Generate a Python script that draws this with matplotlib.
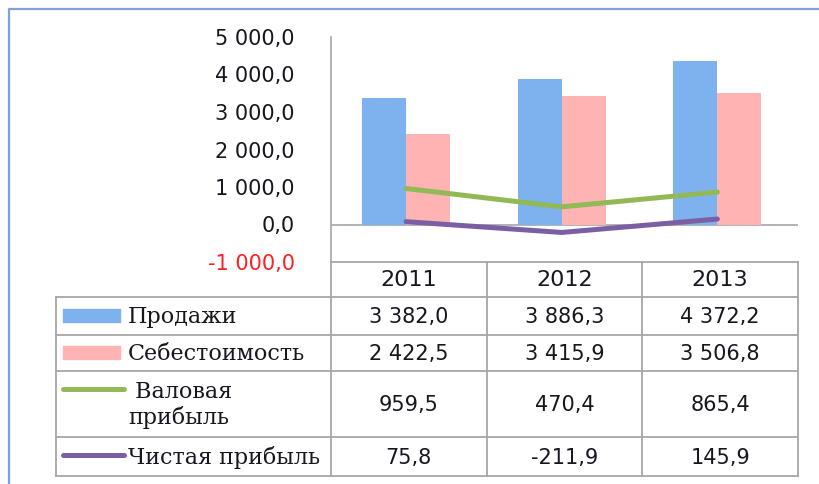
import matplotlib.pyplot as plt
from matplotlib.patches import Rectangle

# data
years = ['2011', '2012', '2013']
sales = [3382.0, 3886.3, 4372.2]
cost = [2422.5, 3415.9, 3506.8]
gross = [959.5, 470.4, 865.4]
net = [75.8, -211.9, 145.9]
labels = ['Продажи', 'Себестоимость', ' Валовая\nприбыль', 'Чистая прибыль']
y_ticks = [-1000, 0, 1000, 2000, 3000, 4000, 5000]

c_blue = '#7DB2EF'
c_pink = '#FFB3B3'
c_green = '#92B955'
c_purple = '#7B5FA5'
c_grid = '#A6A6A6'
c_text = '#16161F'


def fmt(v):
    return f'{v:,.1f}'.replace(',', ' ').replace('.', ',')


W, H = 819, 484
fig = plt.figure(figsize=(W / 100, H / 100), dpi=100)

# background layer in pixel coordinates (border + table)
bg = fig.add_axes([0, 0, 1, 1])
bg.set_xlim(0, W)
bg.set_ylim(H, 0)
bg.axis('off')

# outer chart border
bg.plot([9, 9, W], [H, 9, 9], color='#7FA2D6', lw=1.6, solid_capstyle='butt')

# plot area
x0, x1 = 331, 798
ytop, ybot = 37, 262
ax = fig.add_axes([x0 / W, 1 - ybot / H, (x1 - x0) / W, (ybot - ytop) / H])
ax.set_xlim(-0.5, len(years) - 0.5)
ax.set_ylim(-1000, 5000)
ax.patch.set_alpha(0)

shift = -0.018
xs = [i + shift for i in range(len(years))]
bw = 0.283
ax.bar([x - bw / 2 for x in xs], sales, width=bw, color=c_blue, zorder=2)
ax.bar([x + bw / 2 for x in xs], cost, width=bw, color=c_pink, zorder=2)
ax.axhline(0, color=c_grid, lw=1.2, zorder=1)
ax.plot(xs, gross, color=c_green, lw=3.6, zorder=3, solid_capstyle='round')
ax.plot(xs, net, color=c_purple, lw=3.6, zorder=3, solid_capstyle='round')

for s in ['top', 'right', 'bottom']:
    ax.spines[s].set_visible(False)
ax.spines['left'].set_color(c_grid)
ax.spines['left'].set_linewidth(1.2)
ax.set_xticks([])
ax.set_yticks(y_ticks)
ax.set_yticklabels([fmt(v) for v in y_ticks], fontsize=15, family='DejaVu Sans')
ax.tick_params(axis='y', length=0, pad=26)
for t, v in zip(ax.get_yticklabels(), y_ticks):
    t.set_color('#FF2020' if v < 0 else c_text)

# data table under the plot
col_w = (x1 - x0) / len(years)
col_edges = [x0 + i * col_w for i in range(len(years) + 1)]
row_edges = [262, 297, 335, 371, 437, 476]
tx0 = 56
lw_t = 1.3

bg.plot([x0, x1], [row_edges[0]] * 2, color=c_grid, lw=lw_t)
for yy in row_edges[1:]:
    bg.plot([tx0, x1], [yy, yy], color=c_grid, lw=lw_t)
bg.plot([tx0, tx0], [row_edges[1], row_edges[-1]], color=c_grid, lw=lw_t)
for xx in col_edges:
    bg.plot([xx, xx], [row_edges[0], row_edges[-1]], color=c_grid, lw=lw_t)

# header row
for i, yr in enumerate(years):
    bg.text((col_edges[i] + col_edges[i + 1]) / 2, (row_edges[0] + row_edges[1]) / 2 + 1,
            yr, ha='center', va='center', fontsize=16, color=c_text)

series = [sales, cost, gross, net]
for r, (lab, vals) in enumerate(zip(labels, series)):
    yc = (row_edges[r + 1] + row_edges[r + 2]) / 2
    for i, v in enumerate(vals):
        bg.text((col_edges[i] + col_edges[i + 1]) / 2, yc + 1, fmt(v),
                ha='center', va='center', fontsize=15, color=c_text)
    bg.text(128, yc + 1, lab, ha='left', va='center', fontsize=16,
            family='DejaVu Serif', color=c_text, linespacing=1.15)

# legend keys
bg.add_patch(Rectangle((63, 309), 57, 13, color=c_blue))
bg.add_patch(Rectangle((63, 346), 57, 13, color=c_pink))
bg.plot([63, 124], [389, 389], color=c_green, lw=3.6, solid_capstyle='round')
bg.plot([63, 124], [455, 455], color=c_purple, lw=3.6, solid_capstyle='round')

fig.savefig('out.png', dpi=100)
